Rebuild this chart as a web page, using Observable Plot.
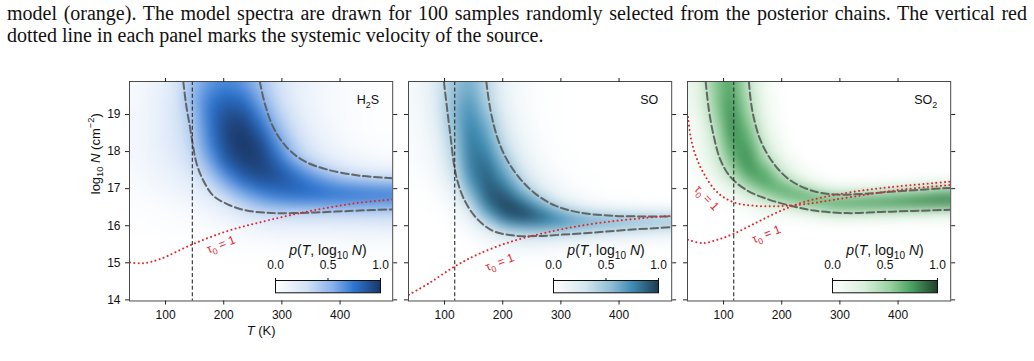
<!DOCTYPE html>
<html lang="en">
<head>
<meta charset="utf-8">
<title>Posterior of excitation temperature and column density</title>
<script src="https://cdn.jsdelivr.net/npm/d3@7"></script>
<script src="https://cdn.jsdelivr.net/npm/@observablehq/plot@0.6"></script>
<style>
  html, body { margin: 0; padding: 0; background: #fff; }
  #page { position: relative; width: 1034px; height: 361px; overflow: hidden; }
  #caption { position: absolute; left: 7px; top: 2px; width: 1020px;
    font-family: "Liberation Serif", "Times New Roman", serif; font-size: 20px;
    line-height: 22px; color: #111; }
  #caption .full { text-align: justify; text-align-last: justify; }
  .abs { position: absolute; }
</style>
</head>
<body>
<div id="page"><div id="caption"></div></div>
<script>
// ---------- text ----------
const captionLines = [
  "model (orange). The model spectra are drawn for 100 samples randomly selected from the posterior chains. The vertical red",
  "dotted line in each panel marks the systemic velocity of the source."
];

// ---------- axes ----------
const tDomain = [38, 490.5];
const nDomain = [13.97, 19.89];
const tTicks = [100, 200, 300, 400];
const nTicks = [14, 15, 16, 17, 18, 19];
const cbTicks = [0, 0.5, 1];

// ---------- posterior density grids ----------
// 24 rows (log10 N = 19.875 down to 14.125, step 0.25) x 15 columns (cell centres from ~53 K to ~475 K),
// in percent of the peak density.
const gridBounds = {t: [38, 490.5], n: [14, 20], cols: 15, rows: 24};

const densityH2S = [
  [6,12,22,45,62,68,62,45,28,17,10,6,4,2,1],
  [7,13,22,48,68,75,70,50,30,17,10,6,4,2,1],
  [7,14,23,48,72,82,78,56,33,18,10,6,4,2,1],
  [8,14,24,45,74,88,86,64,38,20,11,6,4,2,1],
  [8,15,24,42,74,92,93,72,44,24,12,7,4,2,1],
  [8,15,24,40,72,94,98,80,50,28,14,8,4,2,1],
  [8,15,23,38,70,94,100,88,58,33,17,9,5,3,2],
  [8,14,22,35,66,92,100,94,66,40,22,12,7,4,3],
  [8,13,20,32,60,88,98,96,75,44,28,17,11,7,5],
  [7,12,18,28,52,80,94,96,84,63,42,28,18,13,10],
  [6,10,15,23,42,68,86,92,88,76,60,45,34,28,24],
  [5,8,12,18,32,55,74,84,86,82,74,66,60,56,53],
  [4,6,9,13,22,40,58,70,76,78,77,75,74,73,72],
  [3,4,6,9,14,26,42,55,62,65,66,66,66,65,64],
  [2,3,4,6,9,16,27,34,37,37,37,37,37,38,38],
  [1,2,3,4,6,9,15,20,23,24,24,24,24,25,26],
  [1,1,2,2,3,5,8,10,12,12,12,12,13,13,13],
  [0,0,1,1,2,2,4,5,6,6,6,6,6,6,6],
  [0,0,0,1,1,1,2,2,3,3,3,3,3,3,3],
  [0,0,0,0,0,1,1,1,1,1,1,1,1,1,1],
  [0,0,0,0,0,0,0,0,0,0,0,0,0,0,0],
  [0,0,0,0,0,0,0,0,0,0,0,0,0,0,0],
  [0,0,0,0,0,0,0,0,0,0,0,0,0,0,0],
  [0,0,0,0,0,0,0,0,0,0,0,0,0,0,0]
];

const densitySO = [
  [8,22,50,62,38,14,6,2,1,0,0,0,0,0,0],
  [8,22,52,66,40,15,6,2,1,0,0,0,0,0,0],
  [8,21,54,70,44,16,6,2,1,0,0,0,0,0,0],
  [7,20,55,74,48,18,7,2,1,0,0,0,0,0,0],
  [7,18,54,77,56,22,8,3,1,0,0,0,0,0,0],
  [6,16,50,80,62,26,9,3,1,0,0,0,0,0,0],
  [6,14,46,82,68,30,11,4,1,0,0,0,0,0,0],
  [5,12,42,82,74,38,14,5,2,0,0,0,0,0,0],
  [5,11,38,82,80,46,18,6,2,1,0,0,0,0,0],
  [4,9,33,80,86,56,24,9,3,1,0,0,0,0,0],
  [3,7,27,76,90,66,32,13,5,2,1,0,0,0,0],
  [2,5,20,68,92,78,44,19,8,3,1,0,0,0,0],
  [1,3,13,56,92,90,62,32,14,6,3,1,1,0,0],
  [1,2,8,40,86,98,84,56,27,12,5,3,2,1,1],
  [0,1,4,25,70,96,98,84,62,42,30,24,20,18,16],
  [0,0,2,12,45,78,88,86,80,72,67,64,62,60,58],
  [0,0,1,5,20,40,48,50,48,44,40,36,32,27,23],
  [0,0,0,2,8,18,22,22,19,15,11,9,7,6,5],
  [0,0,0,1,3,7,8,7,5,4,3,2,2,1,1],
  [0,0,0,0,1,2,2,2,1,1,1,0,0,0,0],
  [0,0,0,0,0,0,0,0,0,0,0,0,0,0,0],
  [0,0,0,0,0,0,0,0,0,0,0,0,0,0,0],
  [0,0,0,0,0,0,0,0,0,0,0,0,0,0,0],
  [0,0,0,0,0,0,0,0,0,0,0,0,0,0,0]
];

const densitySO2 = [
  [17,58,76,37,6,0,0,0,0,0,0,0,0,0,0],
  [15,55,77,40,7,1,0,0,0,0,0,0,0,0,0],
  [14,54,80,44,9,1,0,0,0,0,0,0,0,0,0],
  [12,52,82,49,10,1,0,0,0,0,0,0,0,0,0],
  [9,45,84,55,12,1,0,0,0,0,0,0,0,0,0],
  [7,39,83,63,17,2,0,0,0,0,0,0,0,0,0],
  [6,35,80,70,22,3,0,0,0,0,0,0,0,0,0],
  [5,30,75,77,31,5,0,0,0,0,0,0,0,0,0],
  [4,25,68,82,40,10,1,0,0,0,0,0,0,0,0],
  [4,20,58,82,58,21,4,1,0,0,0,0,0,0,0],
  [3,14,44,76,75,34,10,2,0,0,0,0,0,0,0],
  [1,7,25,57,76,64,32,10,3,3,4,6,9,12,17],
  [1,3,10,33,55,75,74,52,34,36,40,46,54,62,70],
  [0,1,4,12,29,41,60,74,80,82,84,86,88,90,90],
  [0,0,1,4,12,10,18,30,43,42,40,37,33,30,26],
  [0,0,0,1,4,1,2,4,5,5,4,4,3,3,3],
  [0,0,0,0,0,0,0,0,0,0,0,0,0,0,0],
  [0,0,0,0,0,0,0,0,0,0,0,0,0,0,0],
  [0,0,0,0,0,0,0,0,0,0,0,0,0,0,0],
  [0,0,0,0,0,0,0,0,0,0,0,0,0,0,0],
  [0,0,0,0,0,0,0,0,0,0,0,0,0,0,0],
  [0,0,0,0,0,0,0,0,0,0,0,0,0,0,0],
  [0,0,0,0,0,0,0,0,0,0,0,0,0,0,0],
  [0,0,0,0,0,0,0,0,0,0,0,0,0,0,0]
];

// ---------- credible-region contours [T (K), log10 N] ----------
const innerH2S = [[130.5,19.89],[135.1,19.29],[142,18.66],[146.6,18.21],[153.5,17.67],[164.9,17.22],[182,16.81],[205,16.59],[233.5,16.43],[273.6,16.35],[319.3,16.34],[376.6,16.37],[433.8,16.41],[490.5,16.44]];
const outerH2S = [[262,19.89],[270.7,19.29],[285,18.66],[308,18.12],[336.5,17.76],[376.6,17.52],[433.8,17.35],[490.5,17.28]];
const innerSO = [[98.9,19.89],[104.7,19.11],[110.4,18.39],[116.1,17.67],[121.9,17.22],[133.3,16.72],[153.4,16.23],[182,15.87],[216.3,15.74],[256.3,15.72],[302,15.76],[359.3,15.82],[416.4,15.89],[490.5,15.96]];
const outerSO = [[171.7,19.89],[179,19.11],[190.5,18.39],[204.8,17.85],[227.6,17.31],[256.3,16.86],[290.6,16.54],[330.6,16.36],[387.9,16.27],[445.1,16.25],[490.5,16.25]];
const innerSO2 = [[69.2,19.89],[74.9,19.11],[83.5,18.39],[95,17.76],[112.1,17.31],[140.8,16.95],[175.1,16.72],[215.1,16.54],[255.1,16.41],[312.4,16.34],[369.6,16.37],[426.7,16.40],[490.5,16.43]];
const outerSO2 = [[143.5,19.89],[149.3,19.11],[163.6,18.30],[186.5,17.67],[215.1,17.22],[255.1,16.93],[295.2,16.84],[340.9,16.86],[398.2,16.93],[490.5,17.02]];

// ---------- optical depth tau0 = 1 curves [T (K), log10 N] ----------
const tauH2S = [[38.9,15.01],[61.9,14.99],[90.5,15.10],[144.9,15.49],[205,15.85],[262,16.09],[319.3,16.30],[376.6,16.48],[433.8,16.62],[490.5,16.71]];
const tauSO = [[38.9,14.14],[73.2,14.45],[117.3,14.90],[159,15.24],[216.3,15.58],[273.5,15.81],[330.6,15.99],[387.9,16.12],[445.1,16.21],[490.5,16.27]];
const tauSO2a = [[38.9,18.93],[43.5,18.39],[52.1,17.89],[66.3,17.40],[89.3,16.90],[117.8,16.63],[152.1,16.54],[198,16.53],[243.8,16.59],[289.4,16.70],[346.7,16.84],[403.9,16.97],[490.5,17.10]];
const tauSO2b = [[38.9,15.62],[63.6,15.53],[89.3,15.62],[116.8,15.78],[152.1,16.05],[192.3,16.36],[232.3,16.61],[278.1,16.79],[329.6,16.93],[386.7,17.04],[490.5,17.19]];

// label anchors for the tau0 = 1 curves: [T, log10 N, rotation in degrees]
const tauLabelsH2S = [[195.2,15.49,-21]];
const tauLabelsSO = [[194.9,15.01,-21]];
const tauLabelsSO2 = [[71,16.75,47],[173.6,15.77,-22]];

// reference temperature marked by the vertical dashed line
const refT = [146, 117.5, 117.5];

// ---------- colour ramps ----------
const rampStops = [0, 0.3, 0.55, 0.75, 1];
const rampH2S = ["#ffffff", "#d3e2f6", "#86b0e9", "#2d74d0", "#1b3766"];
const rampSO = ["#ffffff", "#d6e7f0", "#8ebdd6", "#3e8cb4", "#1d3b50"];
const rampSO2 = ["#ffffff", "#d9efdc", "#99d1a1", "#4ba262", "#1e4029"];

// rich-text pieces: [text, style] with style in {"", "it", "sub", "sup"}
const nameH2S = [["H"], ["2", "sub"], ["S"]];
const nameSO = [["SO"]];
const nameSO2 = [["SO"], ["2", "sub"]];
const tauLabel = [["τ"], ["0", "sub"], [" = 1"]];
const xLabel = [["T", "it"], [" (K)"]];
const yLabel = [["log"], ["10", "sub"], [" "], ["N", "it"], [" (cm"], ["−2", "sup"], [")"]];
const cbLabel = [["p", "it"], ["("], ["T", "it"], [", log"], ["10", "sub"], [" "], ["N", "it"], [")"]];

// ---------- layout ----------
const FONT = '"Liberation Sans", Arial, Helvetica, sans-serif';
const FW = 263.2, FH = 219.5, TOP = 81;
const MT = 11, MB = 50;
const frameLefts = [129.4, 407.8, 686.8];

const page = document.getElementById("page");
const cap = document.getElementById("caption");
captionLines.forEach((line, i) => {
  const d = document.createElement("div");
  if (i < captionLines.length - 1) d.className = "full";
  d.textContent = line;
  cap.appendChild(d);
});

function plain(parts) { return parts.map(p => p[0]).join(""); }

function rich(el, parts, px) {
  el.textContent = "";
  let cur = 0;
  for (const [s, k = ""] of parts) {
    const t = document.createElementNS("http://www.w3.org/2000/svg", "tspan");
    const off = k === "sub" ? 0.28 * px : k === "sup" ? -0.42 * px : 0;
    if (off !== cur) { t.setAttribute("dy", (off - cur).toFixed(2)); cur = off; }
    if (k === "sub" || k === "sup") t.setAttribute("font-size", (0.72 * px).toFixed(2));
    if (k === "it") t.setAttribute("font-style", "italic");
    t.textContent = s;
    el.appendChild(t);
  }
}

function richAll(svg, cls, parts, px) {
  svg.querySelectorAll(`.${cls} text`).forEach(el => rich(el, parts, px));
}

function colorScale(ramp) {
  return {type: "linear", domain: rampStops, range: ramp, interpolate: "rgb", clamp: true};
}

// bilinear lookup into a density grid (cell centres), edges held constant
function gridSampler(grid) {
  const {t, n, cols, rows} = gridBounds;
  const dt = (t[1] - t[0]) / cols, dn = (n[1] - n[0]) / rows;
  return (T, N) => {
    const fx = Math.max(0, Math.min(cols - 1, (T - t[0]) / dt - 0.5));
    const fy = Math.max(0, Math.min(rows - 1, (n[1] - N) / dn - 0.5));
    const c = Math.min(cols - 2, Math.floor(fx)), r = Math.min(rows - 2, Math.floor(fy));
    const ax = fx - c, ay = fy - r;
    const top = (1 - ax) * grid[r][c] + ax * grid[r][c + 1];
    const bot = (1 - ax) * grid[r + 1][c] + ax * grid[r + 1][c + 1];
    return ((1 - ay) * top + ay * bot) / 100;
  };
}

function panel(i, cfg) {
  const first = i === 0;
  const ML = first ? 90 : 14, MR = 14;
  const lines = (data, opts) => Plot.line(data, {x: d => d[0], y: d => d[1], curve: "catmull-rom", clip: true, ...opts});
  const contourStyle = {stroke: "#5e5e5e", strokeWidth: 2, strokeDasharray: "7.5,3.6", strokeOpacity: 0.95};
  const tauStyle = {stroke: "#e3262b", strokeWidth: 2, strokeDasharray: "0.01,4.3", strokeLinecap: "round"};
  const marks = [
    Plot.raster({
      fill: gridSampler(cfg.grid), x1: tDomain[0], x2: tDomain[1], y1: nDomain[0], y2: nDomain[1],
      pixelSize: 1, blur: 5, clip: true
    }),
    lines(cfg.inner, contourStyle),
    lines(cfg.outer, contourStyle),
    ...cfg.taus.map(t => lines(t, tauStyle)),
    Plot.ruleX([cfg.refT], {stroke: "#2b2b2b", strokeWidth: 1.1, strokeDasharray: "4,2.4"}),
    Plot.text(cfg.tauLabels, {x: d => d[0], y: d => d[1], rotate: d => d[2], text: () => plain(tauLabel),
      fill: "#e3262b", fontSize: 12, className: "taulab"}),
    Plot.text([plain(cfg.name)], {frameAnchor: "top-right", dx: -13.5, dy: 14, text: d => d,
      textAnchor: "end", lineAnchor: "top", fontSize: 12.5, fill: "#111", className: "pname"}),
    Plot.frame({stroke: "#4a4a4a", strokeWidth: 1}),
    Plot.axisX({anchor: "bottom", ticks: tTicks, tickFormat: d3.format("d"), tickSize: 4, tickPadding: 5, label: null, stroke: "#222", fill: "#111", fontSize: 12}),
    Plot.axisX({anchor: "top", ticks: tTicks, tickSize: 4, label: null, stroke: "#222", fill: "none"}),
    Plot.axisY({anchor: "left", ticks: nTicks, tickFormat: d3.format("d"), tickSize: 4, tickPadding: 5, label: null, stroke: "#222", fill: first ? "#111" : "none", fontSize: 12}),
    Plot.axisY({anchor: "right", ticks: nTicks, tickSize: 4, label: null, stroke: "#222", fill: "none"})
  ];
  if (first) {
    marks.push(Plot.text([plain(xLabel)], {frameAnchor: "bottom", dy: 34, text: d => d, fontSize: 13, fill: "#111", className: "xlab"}));
    marks.push(Plot.text([plain(yLabel)], {frameAnchor: "left", rotate: -90, dx: -34, dy: 3, text: d => d, fontSize: 13, fill: "#111", className: "ylab"}));
  }
  const svg = Plot.plot({
    width: ML + FW + MR, height: MT + FH + MB,
    marginLeft: ML, marginRight: MR, marginTop: MT, marginBottom: MB,
    style: {background: "transparent", overflow: "visible", fontFamily: FONT, fontSize: "12px", color: "#111"},
    x: {domain: tDomain}, y: {domain: nDomain},
    color: colorScale(cfg.ramp),
    marks
  });
  richAll(svg, "taulab", tauLabel, 12);
  richAll(svg, "pname", cfg.name, 12.5);
  if (first) { richAll(svg, "xlab", xLabel, 13); richAll(svg, "ylab", yLabel, 13); }
  svg.classList.add("abs");
  svg.style.left = (frameLefts[i] - ML) + "px";
  svg.style.top = (TOP - MT) + "px";
  page.appendChild(svg);

  // colour bar in the lower-right corner of the panel
  const CBW = 105, CBH = 12.3, cML = 22, cMR = 22, cMT = 38, cMB = 4;
  const cb = Plot.plot({
    width: cML + CBW + cMR, height: cMT + CBH + cMB,
    marginLeft: cML, marginRight: cMR, marginTop: cMT, marginBottom: cMB,
    style: {background: "transparent", overflow: "visible", fontFamily: FONT, fontSize: "11.5px", color: "#111"},
    x: {domain: [0, 1]}, y: {domain: [0, 1], axis: null},
    color: colorScale(cfg.ramp),
    marks: [
      Plot.raster({fill: (x) => x, x1: 0, x2: 1, y1: 0, y2: 1, width: 256, height: 1}),
      Plot.frame({stroke: "#111", strokeWidth: 1}),
      Plot.axisX({anchor: "top", ticks: cbTicks, tickFormat: d3.format(".1f"), tickSize: 3, tickPadding: 8, label: null, stroke: "#111", fill: "#111", fontSize: 12}),
      Plot.text([plain(cbLabel)], {frameAnchor: "top", dy: -25, lineAnchor: "bottom", text: d => d, fontSize: 14, fill: "#111", className: "cblab"})
    ]
  });
  richAll(cb, "cblab", cbLabel, 14);
  cb.classList.add("abs");
  const barLeft = frameLefts[i] + FW - 12.9 - CBW;
  cb.style.left = (barLeft - cML) + "px";
  cb.style.top = (TOP + FH - 8.2 - CBH - cMT) + "px";
  page.appendChild(cb);
}

[
  {grid: densityH2S, inner: innerH2S, outer: outerH2S, taus: [tauH2S], tauLabels: tauLabelsH2S, refT: refT[0], ramp: rampH2S, name: nameH2S},
  {grid: densitySO, inner: innerSO, outer: outerSO, taus: [tauSO], tauLabels: tauLabelsSO, refT: refT[1], ramp: rampSO, name: nameSO},
  {grid: densitySO2, inner: innerSO2, outer: outerSO2, taus: [tauSO2a, tauSO2b], tauLabels: tauLabelsSO2, refT: refT[2], ramp: rampSO2, name: nameSO2}
].forEach((cfg, i) => panel(i, cfg));
</script>
</body>
</html>
